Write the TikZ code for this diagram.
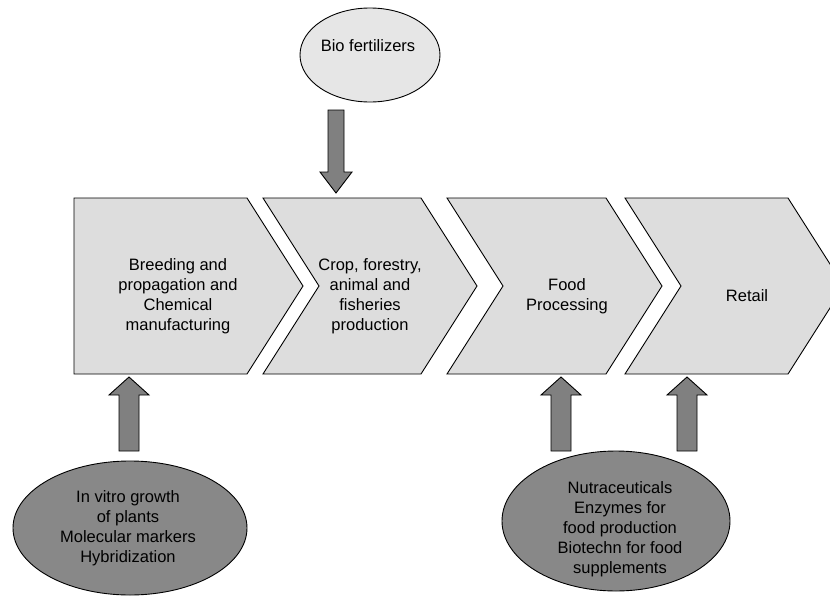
\documentclass[tikz,border=0pt]{standalone}
\usepackage{fontspec}
\setmainfont{Liberation Sans}
\usetikzlibrary{shapes.geometric}
\definecolor{chevfill}{HTML}{DDDDDD}
\definecolor{lightell}{HTML}{E6E6E6}
\definecolor{darkell}{HTML}{888888}
\definecolor{arrfill}{HTML}{808080}
\tikzset{
  chev/.style={draw=black, fill=chevfill, line width=0.9pt, line join=miter},
  blockarrow/.style={draw=black, fill=arrfill, line width=0.9pt, line join=miter},
  lbl/.style={align=center, font=\fontsize{16.5}{20}\selectfont, inner sep=0pt},
  ellbox/.style={ellipse, draw=black, line width=0.9pt, inner sep=0pt}
}
\begin{document}
\begin{tikzpicture}[x=1pt,y=-1pt]
\useasboundingbox (0,0) rectangle (830,597);
% chevrons
\draw[chev] (74,198) -- (247,198) -- (303,286) -- (247,374) -- (74,374) -- cycle;
\draw[chev] (263,198) -- (421,198) -- (477,286) -- (421,374) -- (263,374) -- (319,286) -- cycle;
\draw[chev] (447,198) -- (606,198) -- (662,286) -- (606,374) -- (447,374) -- (503,286) -- cycle;
\draw[chev] (625,198) -- (788,198) -- (844,286) -- (788,374) -- (625,374) -- (681,286) -- cycle;
\node[lbl] (c1) at (178,296) {Breeding and\\propagation and\\Chemical\\manufacturing};
\node[lbl] (c2) at (370,296) {Crop, forestry,\\animal and\\fisheries\\production};
\node[lbl] (c3) at (567,296) {Food\\Processing};
\node[lbl] (c4) at (747,296) {Retail};
% ellipses
\node[ellbox, fill=lightell, minimum width=140pt, minimum height=94pt] (bio) at (370,55) {};
\node[lbl] at (368,46) {Bio fertilizers};
\node[ellbox, fill=darkell, minimum width=234pt, minimum height=134pt] (vitro) at (130,528) {};
\node[lbl] at (128,528) {In vitro growth\\of plants\\Molecular markers\\Hybridization};
\node[ellbox, fill=darkell, minimum width=228pt, minimum height=140pt] (nutra) at (616,521) {};
\node[lbl] at (620,529) {Nutraceuticals\\Enzymes for\\food production\\Biotechn for food\\supplements};
% block arrows
\draw[blockarrow] (328,110) -- (344,110) -- (344,172) -- (352,172) -- (336,193) -- (320,172) -- (328,172) -- cycle;
\draw[blockarrow] (119,451) -- (139,451) -- (139,395) -- (149,395) -- (129,377) -- (109,395) -- (119,395) -- cycle;
\draw[blockarrow] (551,451) -- (571,451) -- (571,395) -- (581,395) -- (561,377) -- (541,395) -- (551,395) -- cycle;
\draw[blockarrow] (677,451) -- (697,451) -- (697,395) -- (707,395) -- (687,377) -- (667,395) -- (677,395) -- cycle;
\end{tikzpicture}
\end{document}
